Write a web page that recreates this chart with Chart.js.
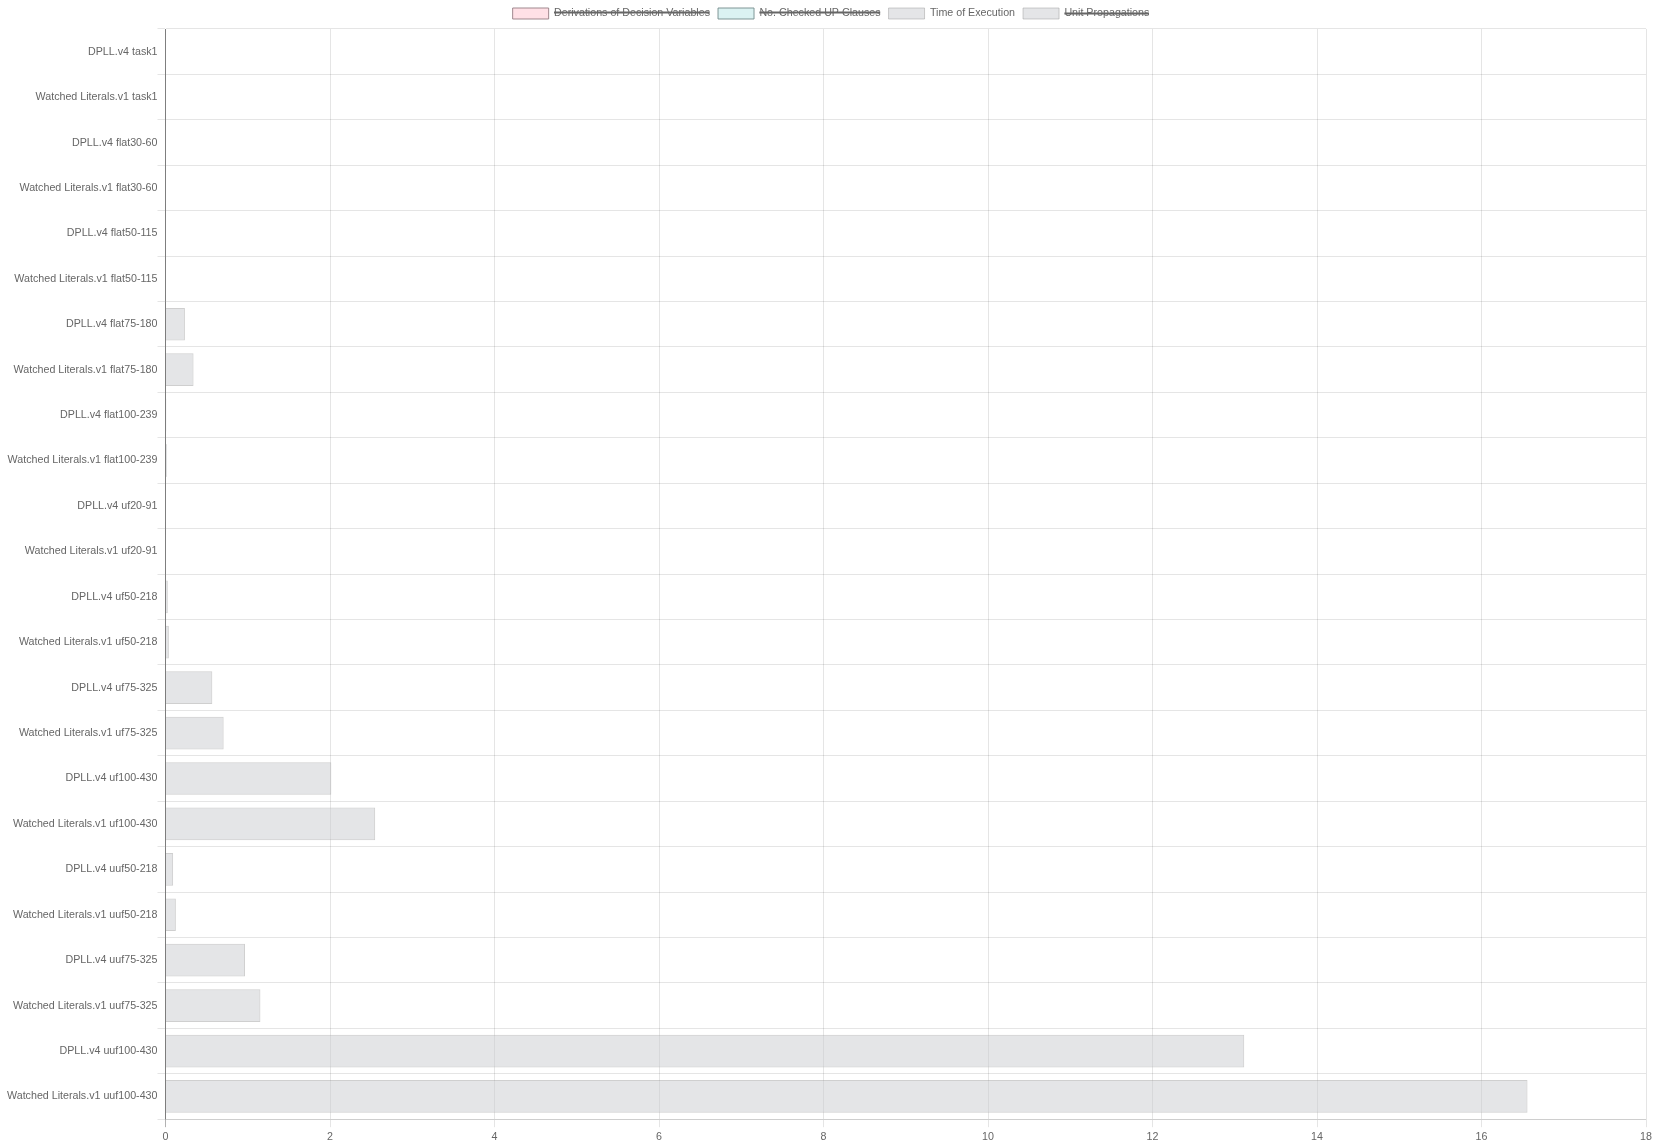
<!DOCTYPE html>
<html>
<head>
<meta charset="utf-8">
<script src="https://cdn.jsdelivr.net/npm/chart.js@4/dist/chart.umd.min.js"></script>
<style>
html,body{margin:0;padding:0;background:#fff;}
#wrap{width:1655px;height:1146px;position:relative;}
</style>
</head>
<body>
<div id="wrap"><canvas id="c"></canvas></div>
<script>
const categories = [
  "DPLL.v4 task1", "Watched Literals.v1 task1",
  "DPLL.v4 flat30-60", "Watched Literals.v1 flat30-60",
  "DPLL.v4 flat50-115", "Watched Literals.v1 flat50-115",
  "DPLL.v4 flat75-180", "Watched Literals.v1 flat75-180",
  "DPLL.v4 flat100-239", "Watched Literals.v1 flat100-239",
  "DPLL.v4 uf20-91", "Watched Literals.v1 uf20-91",
  "DPLL.v4 uf50-218", "Watched Literals.v1 uf50-218",
  "DPLL.v4 uf75-325", "Watched Literals.v1 uf75-325",
  "DPLL.v4 uf100-430", "Watched Literals.v1 uf100-430",
  "DPLL.v4 uuf50-218", "Watched Literals.v1 uuf50-218",
  "DPLL.v4 uuf75-325", "Watched Literals.v1 uuf75-325",
  "DPLL.v4 uuf100-430", "Watched Literals.v1 uuf100-430"
];
const seriesNames = ["Derivations of Decision Variables", "No. Checked UP Clauses", "Time of Execution", "Unit Propagations"];
const hiddenSeries = [true, true, false, true];
// Only "Time of Execution" is visible in the reference; hidden series values cannot be read.
const derivations = [];
const checkedClauses = [];
const timeOfExecution = [
  0.001, 0.001,
  0.001, 0.001,
  0.002, 0.002,
  0.236, 0.341,
  0.010, 0.020,
  0.001, 0.001,
  0.028, 0.041,
  0.569, 0.707,
  2.016, 2.549,
  0.093, 0.126,
  0.967, 1.154,
  13.115, 16.559
];
const unitPropagations = [];
const xTicksMax = 18;

const seriesData = [derivations, checkedClauses, timeOfExecution, unitPropagations];
const bg = ["rgba(255,99,132,0.2)", "rgba(75,192,192,0.2)", "rgba(201,203,207,0.5)", "rgba(201,203,207,0.5)"];
const bd = ["rgba(150,125,132,0.9)", "rgba(115,140,140,0.9)", "rgba(160,160,160,0.5)", "rgba(160,160,160,0.5)"];

Chart.defaults.font.family = '"Liberation Sans", Arial, Helvetica, sans-serif';
Chart.defaults.font.size = 10.7;
Chart.defaults.color = "#666";

new Chart(document.getElementById("c"), {
  type: "bar",
  data: {
    labels: categories,
    datasets: seriesNames.map((n, i) => ({
      label: n,
      data: seriesData[i],
      hidden: hiddenSeries[i],
      backgroundColor: bg[i],
      borderColor: bd[i],
      borderWidth: 1
    }))
  },
  options: {
    indexAxis: "y",
    responsive: true,
    maintainAspectRatio: false,
    animation: false,
    layout: { padding: { left: 7 } },
    plugins: {
      legend: { position: "top", labels: { boxWidth: 36, boxHeight: 11, padding: 8 } },
      tooltip: { enabled: false }
    },
    scales: {
      x: {
        min: 0, max: xTicksMax,
        ticks: { stepSize: 2 },
        grid: { color: (ctx) => (ctx.tick && ctx.tick.value === 0) ? "rgba(0,0,0,0.3)" : "rgba(0,0,0,0.1)" }
      },
      y: {
        ticks: { padding: 0 },
        grid: { color: "rgba(0,0,0,0.1)", tickLength: 8 },
        border: { color: "rgba(0,0,0,0.3)" }
      }
    }
  }
});
</script>
</body>
</html>
